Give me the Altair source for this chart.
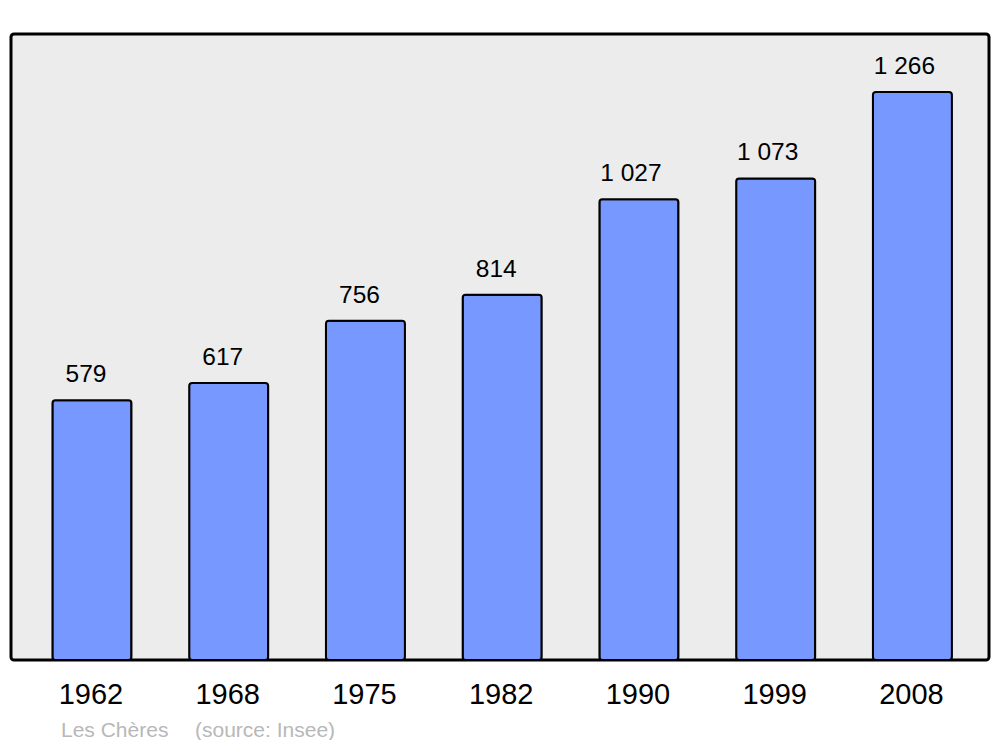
import altair as alt
import pandas as pd

years = ["1962", "1968", "1975", "1982", "1990", "1999", "2008"]
population = [579, 617, 756, 814, 1027, 1073, 1266]
town = "Les Chères"
source = "(source: Insee)"

labels = [f"{v:,}".replace(",", " ") for v in population]
df = pd.DataFrame({"idx": list(range(len(years))), "year": years,
                   "pop": population, "label": labels})

W, H = 978, 626
FONT = "Liberation Sans"

xs = alt.X("idx:Q", scale=alt.Scale(domain=[-0.592, 6.56], nice=False, zero=False, padding=0),
           axis=None)
ys = alt.Y("pop:Q", scale=alt.Scale(domain=[0, 1395], nice=False), axis=None)

base = alt.Chart(df)

bars = base.mark_bar(width=79, cornerRadius=3, fill="#7799ff", stroke="#000000",
                     strokeWidth=2).encode(x=xs, y=ys)

vals_short = base.transform_filter(alt.datum.pop < 1000).mark_text(
    font=FONT, fontSize=24.5, color="#000000", baseline="alphabetic", dx=-6, dy=-18
).encode(x=xs, y=ys, text="label:N")

vals_long = base.transform_filter(alt.datum.pop >= 1000).mark_text(
    font=FONT, fontSize=24.5, color="#000000", baseline="alphabetic", dx=-8, dy=-18
).encode(x=xs, y=ys, text="label:N")

yrs = base.mark_text(font=FONT, fontSize=29, color="#000000", baseline="alphabetic",
                     dx=-1).encode(x=xs, y=alt.value(670), text="year:N")

foot1 = alt.Chart(pd.DataFrame({"t": [town]})).mark_text(
    font=FONT, fontSize=21, color="#b8b8b8", align="left", baseline="alphabetic"
).encode(x=alt.value(50), y=alt.value(703), text="t:N")

foot2 = alt.Chart(pd.DataFrame({"t": [source]})).mark_text(
    font=FONT, fontSize=21, color="#b8b8b8", align="left", baseline="alphabetic"
).encode(x=alt.value(184), y=alt.value(703), text="t:N")

chart = alt.layer(bars, vals_short, vals_long, yrs, foot1, foot2).properties(
    width=W, height=H,
    autosize=alt.AutoSizeParams(type="none"),
    padding={"left": 3, "top": 26, "right": 3, "bottom": 80},
    background="#ffffff",
).configure_view(
    fill="#ececec", stroke="#000000", strokeWidth=3, cornerRadius=3
)

chart.save("out.html", embed_options={"renderer": "svg", "actions": False})
